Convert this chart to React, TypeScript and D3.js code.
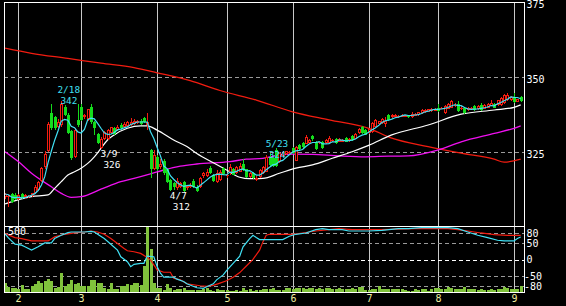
import React from 'react';
import * as d3 from 'd3';

const W = 566;
const H = 306;

// ---- candles: [open, high, low, close] ----
const janCandles = [
  [310, 311.5, 309.5, 311], [310, 310.8, 306.8, 310.5], [311, 311.5, 308, 308.3], [310.8, 311.2, 309, 309.3],
];
const febCandles = [
  [309.5, 311, 309, 310.8], [311, 311.3, 309.5, 309.8], [310, 311, 309.5, 310.6], [310.3, 310.8, 309.8, 310.5],
  [310.5, 311.5, 310, 311.2], [311.5, 314, 311, 313.5], [312.5, 315.5, 312, 315], [315.5, 320, 315, 319.7],
  [320, 325.5, 319.5, 324.5], [325.5, 335, 325, 334.5], [338, 341, 332.5, 333], [336.5, 337, 332.5, 333],
  [333.5, 336, 333, 335], [334, 342, 333.5, 341], [340, 340.5, 337, 337.5], [337.5, 338, 331, 331.5],
  [332, 332.5, 322.3, 323], [323.5, 333, 323, 332.5], [335.7, 341, 333.5, 334],
];
const marCandles = [
  [340, 341, 335.5, 335.7], [336.8, 337.8, 336, 337.3], [336, 339.5, 335.5, 339.3], [340, 341, 334.5, 335],
  [335, 335.5, 330.7, 333], [331, 331.5, 327.5, 328], [326.5, 330, 326, 329.3], [329.3, 332, 329, 331.7],
  [329.5, 332.8, 329, 332.3], [331.3, 333.5, 331, 333.3], [333, 333.5, 330.5, 331], [332.5, 334, 332, 333.5],
  [334, 334.8, 332.5, 333], [333.5, 335, 333, 334.3], [333.7, 335.5, 333.5, 335], [334, 336.2, 333.8, 335.1],
  [334.5, 336, 334, 335.3], [334.8, 335.8, 334.5, 335.3], [335.5, 336, 334, 334.3], [336.3, 336.8, 334.8, 335],
  [334, 338, 332.5, 335], [325.7, 326, 316.3, 319.3], [319.5, 325.7, 319, 324],
];
const aprCandles = [
  [323.3, 324, 318.7, 319.3], [320, 322.5, 319.5, 321], [322, 322.5, 317.5, 318], [319.3, 319.5, 314.8, 315],
  [315.7, 316, 312, 312.3], [314.7, 315, 312.3, 313.3], [313, 316.5, 312.2, 315.5], [313.5, 315, 313, 314.5],
  [315, 315.5, 311.8, 312], [313, 314, 312.5, 313.7], [313.3, 314.5, 313, 314], [315.3, 316, 313, 313.3],
  [313.5, 314, 311.8, 312], [313.3, 316.7, 313, 316.3], [317, 318.5, 316.5, 318], [317, 319.5, 316.8, 318.5],
  [319.7, 320.5, 317.8, 318], [317.3, 317.8, 315, 315.3], [315, 319, 314.8, 318], [315.7, 319, 315.5, 318.3],
  [319.7, 320, 317.5, 317.7],
];
const mayCandles = [
  [317, 318, 316.5, 317.5], [318, 321, 317.5, 320], [319.3, 319.8, 317.3, 317.5], [318, 320.5, 317.8, 320],
  [318.5, 321.3, 318.3, 320.3], [321, 322.5, 318.8, 319], [319.3, 319.5, 316.5, 316.7], [316.7, 318.5, 316.3, 318],
  [318, 318.5, 316, 316.3], [315.7, 317, 315.5, 316.5], [316.8, 319.3, 316.5, 319], [318, 320.3, 317.8, 320],
  [318.5, 324, 318.3, 323.5], [323.4, 324.6, 320.3, 320.7], [322.9, 323.3, 320, 320.3], [325.7, 326.2, 320, 320.3],
  [321.8, 325, 321.5, 324.7], [323.8, 325.5, 323.4, 325.1], [324.5, 325.5, 324, 325.3], [324.6, 325.3, 324.2, 325],
];
const junCandles = [
  [326.2, 326.8, 324.5, 324.8], [322.1, 327, 322, 326.8], [327.3, 327.8, 325.5, 325.9], [328.1, 328.5, 326.4, 326.6],
  [327.7, 330.5, 327.5, 330.1], [328.1, 329.5, 327.8, 329], [330.3, 330.8, 328.8, 329.2], [328.4, 328.8, 325.7, 325.9],
  [327.9, 328.5, 327.5, 328.2], [328.4, 328.8, 326, 326.3], [327.9, 329.3, 327.6, 329], [327.9, 330.3, 327.6, 329.6],
  [328.6, 329.3, 328.3, 329], [329.2, 329.6, 327.6, 327.9], [328.4, 329.8, 328.2, 329.2], [328.5, 329.5, 328.2, 329],
  [329.6, 330, 328.2, 328.4], [328.8, 329.8, 328.5, 329.3], [330.3, 330.6, 328.8, 329], [329.5, 331.3, 329.3, 331],
  [331.2, 333, 331, 332.6], [333.2, 333.6, 331, 331.2], [332.3, 332.6, 330.5, 330.7],
];
const julCandles = [
  [331.2, 332.8, 331, 332.6], [331.8, 335, 331.5, 334.8], [333.4, 336, 333.2, 335.7], [334.2, 335.5, 334, 335.2],
  [334.6, 336.3, 334.4, 335.9], [334.5, 336.5, 333.5, 335.5], [337.3, 337.6, 335.5, 335.7], [336.6, 337.8, 336.4, 337.5],
  [336.6, 337.8, 336.3, 337.5], [336.6, 337.3, 336.4, 337], [336.8, 337.8, 336.6, 337.5], [336.8, 337.5, 336.6, 337.2],
  [337.2, 337.4, 336.4, 336.6], [336.6, 338.2, 336.4, 337.8], [337.1, 337.9, 336.9, 337.6], [337.3, 338.5, 337.1, 338.2],
  [337.9, 339.3, 337.7, 339], [338.2, 339.3, 338, 339], [338.5, 339.5, 338.3, 339.2], [338.6, 339.8, 338.4, 339.5],
  [338.8, 339.8, 338.6, 339.5],
];
const augCandles = [
  [339.8, 340.9, 338.4, 338.7], [339.4, 340, 339.2, 339.8], [337.9, 340.5, 337.7, 340.2], [339.5, 341.2, 339.3, 340.9],
  [339.8, 342.2, 339.6, 342], [340.2, 341.2, 340, 340.8], [340.9, 342, 338.5, 338.7], [339.3, 340.2, 339.1, 339.8],
  [339.8, 340, 337.7, 337.9], [339, 340, 338.8, 339.8], [339.2, 340, 339, 339.8], [340.2, 340.5, 338.8, 339],
  [339.2, 340.5, 339, 340.2], [340.5, 341.3, 338.8, 339], [339.5, 341, 339.3, 340.8], [339.8, 341.3, 339.6, 341],
  [340.4, 342.3, 340.2, 341.4], [340.9, 341.2, 339.6, 339.8], [340.6, 342.5, 340.4, 342.3], [340.6, 343.2, 340.4, 342.9],
  [341.3, 344.3, 341, 344], [342.3, 344.8, 342, 344], [342.3, 343.8, 342, 343.5],
];
const sepCandles = [
  [343.3, 344.5, 341.5, 341.7], [341.8, 342.8, 341.6, 342.6], [343.3, 343.6, 341.8, 342],
];
const candles = [
  ...janCandles, ...febCandles, ...marCandles, ...aprCandles, ...mayCandles,
  ...junCandles, ...julCandles, ...augCandles, ...sepCandles,
];

// ---- volume ----
const volume = [
  76, 45, 38, 33, 25, 58, 28, 25, 50, 63, 88, 75, 88, 101, 88, 38, 45, 151, 53, 66,
  96, 66, 76, 50, 50, 50, 96, 96, 76, 76, 33, 25, 76, 25, 30, 53, 50, 66, 60, 71,
  71, 58, 202, 495, 331, 76, 33, 33, 20, 63, 33, 20, 25, 25, 33, 20, 20, 20, 20, 20,
  25, 33, 20, 15, 25, 20, 20, 20, 15, 15, 20, 15, 33, 20, 25, 15, 20, 20, 25, 25,
  25, 33, 20, 20, 20, 33, 38, 25, 33, 38, 38, 30, 33, 38, 30, 33, 30, 38, 33, 30,
  25, 33, 28, 25, 30, 33, 25, 45, 45, 20, 20, 25, 28, 53, 28, 25, 25, 25, 25, 25,
  25, 20, 15, 15, 25, 20, 28, 25, 15, 25, 38, 33, 30, 25, 45, 33, 30, 25, 28, 45,
  25, 25, 25, 20, 25, 20, 20, 25, 20, 25, 28, 45, 33, 25, 28, 30, 50,
];

// ---- moving averages: [candle index, price] ----
const whiteMA = [
  [0, 307.7], [8, 310.1], [13, 310.7], [15, 312.9], [17, 315.1], [19, 317.3], [21, 318.4], [23, 319.6],
  [25, 321.2], [27, 323.4], [29, 326.2], [31, 329], [33, 330.7], [37, 332.9], [41, 333.7], [43, 333.7],
  [46, 332.3], [51, 329], [55, 326.8], [58, 324.5], [63, 321.4], [67, 319], [71, 316.6], [74, 316.1],
  [78, 316.2], [83, 317.9], [88, 319.6], [93, 320.7], [99, 322.9], [105, 325.1], [110, 327.2],
  [117, 330.7], [128, 334], [138, 337.6], [148, 339], [154, 339.9], [156, 340.7],
];
const magentaMA = [
  [0, 325.1], [4, 321.8], [8, 317.9], [14, 313.4], [17, 311.2], [20, 309.9], [23, 310.1], [29, 312.6],
  [35, 315.1], [39, 316.2], [44, 317.7], [48, 319], [53, 320.3], [58, 321], [68, 321.8], [73, 322.6],
  [78, 322.9], [83, 324], [87, 324.3], [93, 324.2], [101, 323.7], [109, 323.4], [116, 323.6],
  [122, 323.7], [131, 325.7], [138, 328.4], [148, 331.2], [154, 332.9], [156, 333.7],
];
const redMA = [
  [0, 359.6], [8, 357.9], [19, 356.2], [29, 354.6], [39, 353.1], [46, 351.4], [56, 348.8], [65, 345.5],
  [76, 342.3], [87, 338.4], [98, 335.7], [110, 332.9], [117, 329.6], [128, 326.8], [138, 324.6],
  [148, 322.6], [151, 321.6], [156, 322.6],
];

// ---- lower panel oscillator (RCI): [candle index, value] ----
const rciCyan = [
  [0, 78], [1, 66], [3, 47], [5, 44], [6, 39], [8, 29], [10, 39], [12, 51], [14, 51], [15, 64], [17, 74],
  [19, 82], [20, 84], [24, 84], [26, 86], [27, 84], [28, 77], [30, 64], [32, 47], [34, 29], [35, 9],
  [37, -6], [38, -21], [39, -14], [41, -11], [42, -11], [43, 11], [45, 9], [46, -21], [47, -41],
  [48, -53], [51, -53], [52, -59], [54, -66], [55, -73], [58, -85], [60, -87], [61, -82], [63, -73],
  [64, -61], [66, -46], [67, -33], [69, -11], [71, 11], [72, 39], [74, 64], [75, 74], [76, 67],
  [77, 61], [79, 61], [84, 61], [86, 71], [88, 77], [91, 81], [94, 91], [96, 94], [98, 91], [102, 91],
  [104, 87], [110, 87], [114, 89], [119, 94], [122, 94], [126, 97], [134, 97], [137, 94], [140, 84],
  [143, 74], [146, 67], [149, 59], [151, 57], [154, 57], [155, 64], [156, 69],
];
const rciRed = [
  [0, 79], [3, 67], [5, 64], [8, 57], [13, 57], [15, 69], [18, 77], [21, 81], [24, 84], [26, 87],
  [28, 84], [30, 77], [32, 64], [34, 49], [36, 34], [37, 27], [39, 24], [41, 19], [43, 7], [44, -1],
  [46, -31], [48, -38], [50, -38], [51, -56], [53, -61], [55, -73], [57, -76], [59, -79], [61, -81],
  [63, -78], [65, -71], [67, -64], [69, -53], [71, -39], [73, -19], [75, 1], [77, 29], [78, 54],
  [79, 74], [80, 77], [87, 77], [90, 81], [94, 87], [98, 91], [101, 94], [105, 91], [114, 91],
  [124, 94], [134, 94], [137, 91], [140, 87], [144, 81], [148, 76], [152, 74], [156, 74],
];

// ---- axes / labels ----
const monthLabels = ['2', '3', '4', '5', '6', '7', '8', '9'];
const monthStarts = [4, 23, 46, 67, 87, 110, 131, 154];
const priceTicks = [375, 350, 325];
const priceGrid = [350, 325];
const rciTicks = [80, 50, 0, -50, -80];
const volumeLabel = '500';

// high/low annotations
const annoDates = ['2/18', '3/9', '4/7', '5/23'];
const annoValues = [342, 326, 312, 324];
const annoIdx = [16, 29, 50, 79];
const annoKind = ['high', 'low', 'low', 'high'];

const RED = '#f21c10';
const GREEN = '#14dc1c';
const CYAN = '#40e0f4';
const MAG = '#f010f0';
const VOL = '#80c23c';
const FONT = '"DejaVu Sans Mono", monospace';

export default function App() {
  const n = candles.length;
  const x = d3.scaleLinear().domain([0, n - 1]).range([5.1, 5.1 + 3.305 * (n - 1)]);
  const yP = d3.scaleLinear().domain([300, 375]).range([227, 2]);
  const yR = d3.scaleLinear().domain([-100, 100]).range([292.7, 226.7]);
  const yV = d3.scaleLinear().domain([0, 500]).range([292.7, 226.7]);

  const left = 4, right = 524, top = 2, sep = 226, bottom = 292;

  const closes = candles.map((c) => c[3]);
  const sma5 = closes.map((_, i) => [i, d3.mean(closes.slice(Math.max(0, i - 4), i + 1)) as number]);

  const lineP = d3.line<number[]>().x((d) => x(d[0])).y((d) => yP(d[1])).curve(d3.curveMonotoneX);
  const lineP2 = d3.line<number[]>().x((d) => x(d[0])).y((d) => yP(d[1]));
  const lineR = d3.line<number[]>().x((d) => x(d[0])).y((d) => yR(d[1]));

  return (
    <svg width={W} height={H} style={{ position: 'absolute', left: 0, top: 0, background: '#000' }}>
      <defs>
        <clipPath id="mainClip">
          <rect x={left + 1} y={top + 1} width={right - left - 1} height={sep - top - 1} />
        </clipPath>
        <clipPath id="lowClip">
          <rect x={left + 1} y={sep + 1} width={right - left - 1} height={bottom - sep - 1} />
        </clipPath>
      </defs>
      <rect x={0} y={0} width={W} height={H} fill="#000" />

      {/* month grid lines */}
      {monthStarts.map((m, k) => (
        <line key={'mg' + k} x1={Math.round(x(m)) + 0.5} x2={Math.round(x(m)) + 0.5} y1={top} y2={bottom}
          stroke="#c8c8c8" strokeWidth={1} shapeRendering="crispEdges" />
      ))}
      {/* price dashed grid */}
      {priceGrid.map((v) => (
        <line key={'pg' + v} x1={left} x2={right} y1={Math.round(yP(v)) + 0.5} y2={Math.round(yP(v)) + 0.5}
          stroke="#9a9a9a" strokeDasharray="4,3" shapeRendering="crispEdges" />
      ))}
      {/* rci dashed grid */}
      {rciTicks.map((v) => (
        <line key={'rg' + v} x1={left} x2={right} y1={Math.round(yR(v)) + 0.5} y2={Math.round(yR(v)) + 0.5}
          stroke={v === 0 ? '#ffffff' : '#9a9a9a'} strokeDasharray="4,3" shapeRendering="crispEdges" />
      ))}

      {/* volume and oscillator */}
      <g clipPath="url(#lowClip)">
        {volume.map((v, i) => {
          const xc = Math.round(x(i));
          const yt = Math.round(yV(v));
          return <rect key={'v' + i} x={xc - 1} y={yt} width={3} height={Math.max(1, bottom - yt)} fill={VOL}
            shapeRendering="crispEdges" />;
        })}
        <path d={lineR(rciRed) || ''} fill="none" stroke={RED} strokeWidth={1.2} />
        <path d={lineR(rciCyan) || ''} fill="none" stroke={CYAN} strokeWidth={1.2} />
      </g>

      {/* main panel */}
      <g clipPath="url(#mainClip)">
        <path d={lineP(redMA) || ''} fill="none" stroke={RED} strokeWidth={1.3} />
        <path d={lineP(magentaMA) || ''} fill="none" stroke={MAG} strokeWidth={1.3} />
        <path d={lineP(whiteMA) || ''} fill="none" stroke="#ffffff" strokeWidth={1.2} />
        {candles.map((c, i) => {
          const [o, h, l, cl] = c;
          const xc = Math.round(x(i));
          const up = cl >= o;
          const yT = Math.round(yP(Math.max(o, cl)));
          const yB = Math.round(yP(Math.min(o, cl)));
          const yh = Math.round(yP(h));
          const yl = Math.round(yP(l));
          const bh = Math.max(1, yB - yT);
          if (up) {
            return (
              <g key={'c' + i} shapeRendering="crispEdges">
                <line x1={xc + 0.5} x2={xc + 0.5} y1={yh} y2={yT} stroke={RED} />
                <line x1={xc + 0.5} x2={xc + 0.5} y1={yT + bh} y2={yl} stroke={RED} />
                {bh >= 2 ? (
                  <rect x={xc - 0.5} y={yT + 0.5} width={2} height={bh - 1} fill="#000" stroke={RED} />
                ) : (
                  <rect x={xc - 1} y={yT} width={3} height={bh} fill={RED} />
                )}
              </g>
            );
          }
          return (
            <g key={'c' + i} shapeRendering="crispEdges">
              <line x1={xc + 0.5} x2={xc + 0.5} y1={yh} y2={yl} stroke={GREEN} />
              <rect x={xc - 1} y={yT} width={3} height={bh} fill={GREEN} />
            </g>
          );
        })}
        <path d={lineP2(sma5) || ''} fill="none" stroke={CYAN} strokeWidth={1.2} />
      </g>

      {/* annotations */}
      {annoDates.map((d, k) => {
        const xa = x(annoIdx[k]) - 0.5;
        const ya = yP(annoValues[k]);
        const hi = annoKind[k] === 'high';
        const col = hi ? CYAN : '#ffffff';
        const y1 = hi ? ya - 8 : ya + 7.5;
        const y2 = hi ? ya + 3 : ya + 18.5;
        return (
          <g key={'a' + k} fill={col} fontFamily={FONT} fontSize={9.4}>
            <text x={xa} y={y1}>{d}</text>
            <text x={xa + 3} y={y2}>{annoValues[k]}</text>
          </g>
        );
      })}

      {/* frame */}
      <rect x={left + 0.5} y={top + 0.5} width={right - left} height={bottom - top} fill="none" stroke="#fff"
        shapeRendering="crispEdges" />
      <line x1={left} x2={right} y1={sep + 0.5} y2={sep + 0.5} stroke="#fff" shapeRendering="crispEdges" />

      {/* right axis labels */}
      {priceTicks.map((v) => (
        <text key={'pt' + v} x={526.5} y={yP(v) + 6} fill="#fff" fontFamily={FONT} fontSize={10}>{v}</text>
      ))}
      {rciTicks.map((v) => (
        <text key={'rt' + v} x={v < 0 ? 524 : 526.5} y={yR(v) + 3.7} fill="#fff" fontFamily={FONT} fontSize={10}>{v}</text>
      ))}
      <text x={8} y={235} fill="#fff" fontFamily={FONT} fontSize={10}>{volumeLabel}</text>

      {/* month labels */}
      {monthLabels.map((m, k) => (
        <text key={'ml' + k} x={Math.round(x(monthStarts[k])) + 0.5} y={302} textAnchor="middle" fill="#f0f0a0"
          fontFamily={FONT} fontSize={10}>{m}</text>
      ))}
    </svg>
  );
}
